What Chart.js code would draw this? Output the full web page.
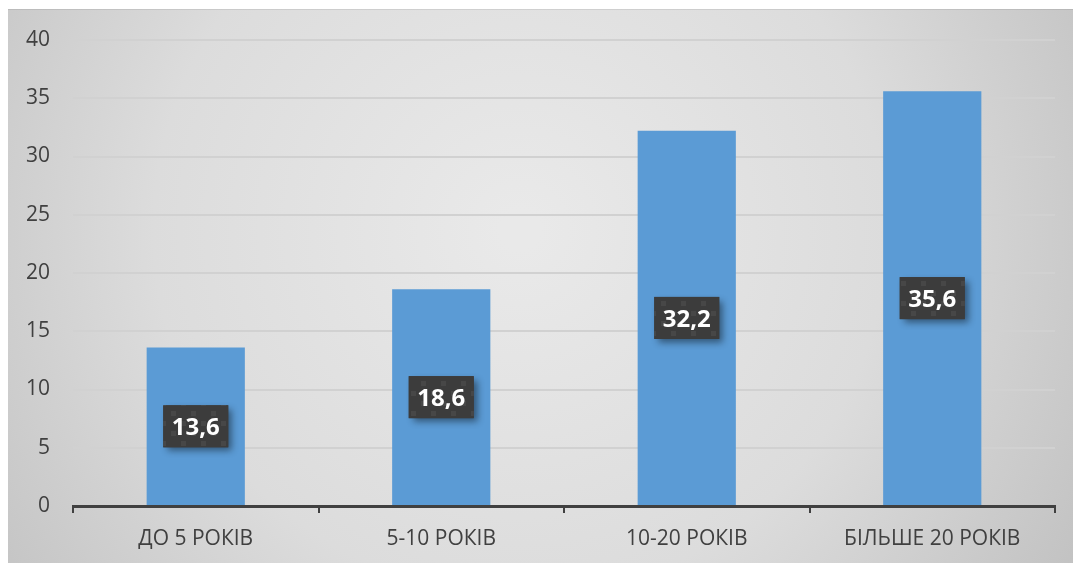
<!DOCTYPE html>
<html>
<head>
<meta charset="utf-8">
<script src="https://cdn.jsdelivr.net/npm/chart.js@4.4.1/dist/chart.umd.min.js"></script>
<style>
  html, body { margin: 0; padding: 0; background: #fff; }
  #wrap { width: 1073px; height: 563px; }
</style>
</head>
<body>
<div id="wrap"><canvas id="chart" width="1073" height="563"></canvas></div>
<script>
const categories = ['ДО 5 РОКІВ', '5-10 РОКІВ', '10-20 РОКІВ', 'БІЛЬШЕ 20 РОКІВ'];
const values = [13.6, 18.6, 32.2, 35.6];
const yTicks = [0, 5, 10, 15, 20, 25, 30, 35, 40];

const textColor = '#404040';
const fontFamily = "'Open Sans', 'Noto Sans', sans-serif";

// grey panel with a soft light spot in the middle
const panelBackground = {
    id: 'panelBackground',
    beforeDraw(chart) {
        const c = chart.ctx;
        const w = chart.width, h = chart.height;
        c.save();
        c.fillStyle = '#ffffff';
        c.fillRect(0, 0, w, h);
        const g = c.createRadialGradient(520, 230, 20, 520, 230, 650);
        g.addColorStop(0, '#e9e9e9');
        g.addColorStop(0.55, '#dcdcdc');
        g.addColorStop(1, '#c2c2c2');
        c.fillStyle = g;
        c.fillRect(8, 9, w - 8, h - 9);
        c.fillStyle = 'rgba(0,0,0,0.08)';
        c.fillRect(8, 9, w - 8, 1);
        c.restore();
    }
};

// small speckled tile for the label boxes
function makeBoxPattern(ctx) {
    const tile = document.createElement('canvas');
    tile.width = 20;
    tile.height = 20;
    const t = tile.getContext('2d');
    t.fillStyle = '#3c3c3c';
    t.fillRect(0, 0, 20, 20);
    t.fillStyle = '#474747';
    t.fillRect(1, 1, 5, 5);
    t.fillRect(11, 11, 5, 5);
    return ctx.createPattern(tile, 'repeat');
}

// value boxes in the middle of each bar
const valueBoxes = {
    id: 'valueBoxes',
    afterDatasetsDraw(chart) {
        const c = chart.ctx;
        const meta = chart.getDatasetMeta(0);
        const pattern = makeBoxPattern(c);
        c.save();
        c.font = 'bold 24px ' + fontFamily;
        c.textAlign = 'center';
        c.textBaseline = 'middle';
        meta.data.forEach((bar, i) => {
            const text = values[i].toFixed(1).replace('.', ',');
            const cx = bar.x;
            const cy = (bar.y + bar.base) / 2;
            const bw = 65, bh = 42;
            c.save();
            c.shadowColor = 'rgba(0,0,0,0.45)';
            c.shadowBlur = 7;
            c.shadowOffsetX = 4;
            c.shadowOffsetY = 4;
            c.fillStyle = '#3c3c3c';
            c.fillRect(cx - bw / 2, cy - bh / 2, bw, bh);
            c.restore();
            c.fillStyle = pattern;
            c.fillRect(cx - bw / 2, cy - bh / 2, bw, bh);
            c.fillStyle = '#ffffff';
            c.fillText(text, cx, cy + 2);
        });
        c.restore();
    }
};

const ctx = document.querySelector('#chart').getContext('2d');
const chart = new Chart(ctx, {
    type: 'bar',
    data: {
        labels: categories,
        datasets: [{
            data: values,
            backgroundColor: '#5b9bd5',
            borderWidth: 0,
            barPercentage: 0.4,
            categoryPercentage: 1.0
        }]
    },
    options: {
        responsive: false,
        animation: false,
        layout: {
            padding: { top: 40, right: 18, bottom: 0, left: 0 }
        },
        scales: {
            x: {
                grid: {
                    offset: true,
                    drawOnChartArea: false,
                    drawTicks: true,
                    tickLength: 7,
                    color: textColor,
                    lineWidth: 2
                },
                border: {
                    display: true,
                    color: textColor,
                    width: 3
                },
                ticks: {
                    color: textColor,
                    font: { family: fontFamily, size: 21 },
                    padding: 13
                },
                afterFit(scale) {
                    scale.height = 57;
                }
            },
            y: {
                min: 0,
                max: 40,
                afterBuildTicks(scale) {
                    scale.ticks = yTicks.map(v => ({ value: v }));
                },
                grid: {
                    color: '#d1d1d1',
                    lineWidth: 2,
                    drawTicks: false
                },
                border: { display: false },
                ticks: {
                    color: textColor,
                    font: { family: fontFamily, size: 21 },
                    padding: 23
                },
                afterFit(scale) {
                    scale.width = 73;
                }
            }
        },
        plugins: {
            legend: { display: false },
            title: { display: false },
            tooltip: { enabled: false }
        }
    },
    plugins: [panelBackground, valueBoxes]
});
</script>
</body>
</html>
